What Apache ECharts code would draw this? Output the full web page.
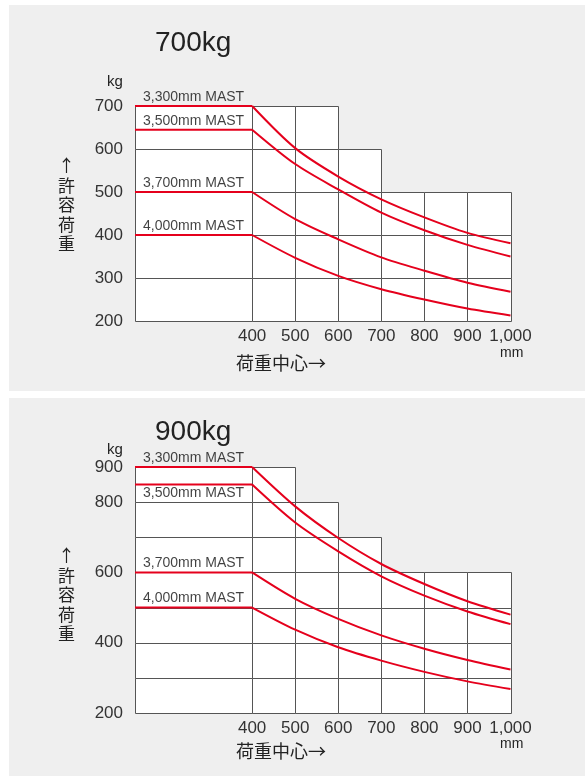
<!DOCTYPE html>
<html>
<head>
<meta charset="utf-8">
<script src="https://cdn.jsdelivr.net/npm/echarts@6/dist/echarts.min.js"></script>
<style>
  html, body { margin: 0; padding: 0; background: #fff; }
  #wrap { position: relative; width: 586px; height: 780px; }
  .panel { position: absolute; left: 9px; width: 576px; background: #efefef; }
  #chart { position: absolute; left: 0; top: 0; width: 586px; height: 780px; }
</style>
</head>
<body>
<div id="wrap">
  <div class="panel" style="top:5px;height:386px;"></div>
  <div class="panel" style="top:398px;height:378px;"></div>
  <div id="chart"></div>
</div>
<script>
// ---- data ----
const loadCenters = [400, 500, 600, 700, 800, 900, 1000];
const mastNames = ['3,300mm MAST', '3,500mm MAST', '3,700mm MAST', '4,000mm MAST'];

const top3300 = [700, 602, 536, 483, 441, 405, 381];
const top3500 = [645, 565, 506, 452, 411, 377, 350];
const top3700 = [500, 437, 390, 348, 317, 289, 268];
const top4000 = [400, 347, 305, 274, 250, 229, 213];

const bottom3300 = [900, 788, 698, 624, 567, 518, 480];
const bottom3500 = [850, 742, 660, 589, 534, 489, 453];
const bottom3700 = [600, 525, 468, 421, 383, 351, 324];
const bottom4000 = [500, 437, 387, 349, 317, 290, 268];

const columnEdges = [128, 400, 500, 600, 700, 800, 900, 1000];
const topColumnHeights = [700, 700, 700, 600, 500, 500, 500];
const bottomColumnHeights = [900, 900, 800, 700, 600, 600, 600];

const topYTicks = [200, 300, 400, 500, 600, 700];
const bottomYTicks = [200, 400, 600, 800, 900];
const xTicks = [400, 500, 600, 700, 800, 900, 1000];

const titles = ['700kg', '900kg'];
// ---- end data ----

const RED = '#e5001c';
const GRIDC = '#555';
const LATIN = "'Liberation Sans', Arial, sans-serif";
const CJK = "'Noto Sans CJK JP', sans-serif";
const X_MIN = columnEdges[0];

function cellsData(heights) {
  return heights.map((h, i) => [columnEdges[i], columnEdges[i + 1], h]);
}

function cellSeries(gi, heights, yMin) {
  return {
    type: 'custom',
    xAxisIndex: gi, yAxisIndex: gi,
    z: 1,
    silent: true,
    clip: false,
    data: cellsData(heights),
    encode: { x: [0, 1], y: 2 },
    renderItem: function (params, api) {
      const x0 = api.value(0), x1 = api.value(1), top = api.value(2);
      const children = [];
      for (let y = yMin; y < top; y += 100) {
        const p0 = api.coord([x0, y + 100]);
        const p1 = api.coord([x1, y]);
        children.push({
          type: 'rect',
          shape: { x: Math.round(p0[0]) + 0.5, y: Math.round(p0[1]) + 0.5,
                   width: Math.round(p1[0]) - Math.round(p0[0]),
                   height: Math.round(p1[1]) - Math.round(p0[1]) },
          style: { fill: '#fff', stroke: GRIDC, lineWidth: 1 }
        });
      }
      return { type: 'group', children: children };
    }
  };
}

function mastSeries(gi, values, name, labelPos) {
  const flat = {
    type: 'line', xAxisIndex: gi, yAxisIndex: gi, z: 3,
    clip: false, symbol: 'none', silent: true,
    lineStyle: { color: RED, width: 2 },
    data: [[X_MIN, values[0]], [loadCenters[0], values[0]]]
  };
  const curve = {
    type: 'line', xAxisIndex: gi, yAxisIndex: gi, z: 3,
    clip: false, symbol: 'none', silent: true, smooth: 0.3,
    lineStyle: { color: RED, width: 2 },
    data: loadCenters.map((c, i) => [c, values[i]])
  };
  const label = {
    type: 'scatter', xAxisIndex: gi, yAxisIndex: gi, z: 4,
    silent: true, symbol: 'circle', symbolSize: 0,
    itemStyle: { color: 'transparent' },
    label: { show: true, position: labelPos, distance: 2, align: 'left',
             offset: [8, 0], formatter: name, fontSize: 14,
             color: '#111', fontFamily: LATIN, textBorderWidth: 0 },
    data: [[X_MIN, values[0]]]
  };
  return [flat, curve, label];
}

function xAxis(gi) {
  return {
    type: 'value', gridIndex: gi, min: X_MIN, max: 1000,
    axisLine: { show: false }, axisTick: { show: false }, splitLine: { show: false },
    axisLabel: {
      customValues: xTicks, margin: 7, fontSize: 17, color: '#333', fontFamily: LATIN,
      formatter: v => String(v).replace(/\B(?=(\d{3})+(?!\d))/g, ',')
    }
  };
}

function yAxis(gi, min, max, ticks) {
  return {
    type: 'value', gridIndex: gi, min: min, max: max,
    axisLine: { show: false }, axisTick: { show: false }, splitLine: { show: false },
    axisLabel: { customValues: ticks, margin: 12, fontSize: 17, color: '#333', fontFamily: LATIN }
  };
}

const chart = echarts.init(document.getElementById('chart'), null, { renderer: 'canvas' });

const txt = (x, y, text, size, font, extra) => Object.assign({
  type: 'text', left: x, top: y,
  style: { text: text, fontSize: size, fill: '#222', fontFamily: font }
}, extra || {});

const option = {
  backgroundColor: 'transparent',
  animation: false,
  grid: [
    { left: 135, right: 75.5, top: 106, height: 215 },
    { left: 135, right: 75.5, top: 467, height: 246 }
  ],
  xAxis: [xAxis(0), xAxis(1)],
  yAxis: [yAxis(0, 200, 700, topYTicks), yAxis(1, 200, 900, bottomYTicks)],
  graphic: [
    txt(155, 29, titles[0], 28, LATIN),
    txt(155, 418, titles[1], 28, LATIN),
    txt(107, 74, 'kg', 15, LATIN),
    txt(107, 442, 'kg', 15, LATIN),
    txt(500, 346, 'mm', 14, LATIN),
    txt(500, 737, 'mm', 14, LATIN),
    txt(236, 354, '荷重中心→', 18, CJK),
    txt(236, 742, '荷重中心→', 18, CJK),
    { type: 'text', left: 58, top: 156,
      style: { text: '↑\n許\n容\n荷\n重', fontSize: 17, lineHeight: 19.5, fill: '#222', fontFamily: CJK, align: 'center' } },
    { type: 'text', left: 58, top: 546,
      style: { text: '↑\n許\n容\n荷\n重', fontSize: 17, lineHeight: 19.5, fill: '#222', fontFamily: CJK, align: 'center' } }
  ],
  series: [
    cellSeries(0, topColumnHeights, 200),
    cellSeries(1, bottomColumnHeights, 200),
    ...mastSeries(0, top3300, mastNames[0], 'top'),
    ...mastSeries(0, top3500, mastNames[1], 'top'),
    ...mastSeries(0, top3700, mastNames[2], 'top'),
    ...mastSeries(0, top4000, mastNames[3], 'top'),
    ...mastSeries(1, bottom3300, mastNames[0], 'top'),
    ...mastSeries(1, bottom3500, mastNames[1], 'bottom'),
    ...mastSeries(1, bottom3700, mastNames[2], 'top'),
    ...mastSeries(1, bottom4000, mastNames[3], 'top')
  ]
};
chart.setOption(option);
</script>
</body>
</html>
